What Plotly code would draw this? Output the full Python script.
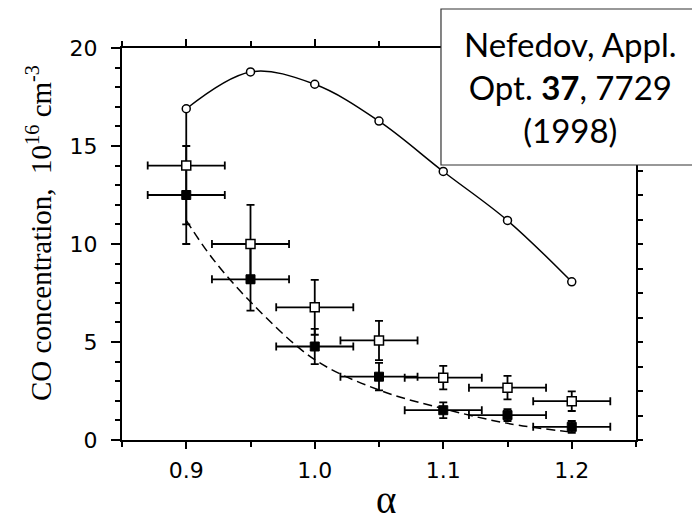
import plotly.graph_objects as go

# Data
alpha_calc = [0.9, 0.95, 1.0, 1.05, 1.1, 1.15, 1.2]
co_calc = [16.9, 18.78, 18.15, 16.27, 13.7, 11.2, 8.07]

alpha_meas = [0.9, 0.95, 1.0, 1.05, 1.1, 1.15, 1.2]
co_open = [14.0, 10.0, 6.77, 5.08, 3.18, 2.67, 1.98]
co_open_err = [3.0, 2.0, 1.4, 1.0, 0.6, 0.6, 0.5]
co_filled = [12.5, 8.2, 4.77, 3.23, 1.52, 1.27, 0.67]
co_filled_err = [2.5, 1.6, 0.9, 0.7, 0.4, 0.3, 0.3]
alpha_err = [0.03, 0.03, 0.03, 0.03, 0.03, 0.03, 0.03]

alpha_model = [0.9, 0.92, 0.95, 1.0, 1.05, 1.1, 1.15, 1.2]
co_model = [11.2, 9.3, 7.05, 4.1, 2.55, 1.6, 0.85, 0.4]

fig = go.Figure()

fig.add_trace(go.Scatter(
    x=alpha_model, y=co_model, mode="lines",
    line=dict(color="black", width=1.5, dash="9px,5px", shape="spline", smoothing=1.0),
    showlegend=False, hoverinfo="skip"))

fig.add_trace(go.Scatter(
    x=alpha_meas, y=co_filled, mode="markers",
    marker=dict(symbol="square", size=9, color="black", line=dict(color="black", width=1)),
    error_x=dict(type="data", array=alpha_err, color="black", thickness=1.8, width=4),
    error_y=dict(type="data", array=co_filled_err, color="black", thickness=1.8, width=4),
    showlegend=False))

fig.add_trace(go.Scatter(
    x=alpha_meas, y=co_open, mode="markers",
    marker=dict(symbol="square", size=9, color="white", line=dict(color="black", width=1.5)),
    error_x=dict(type="data", array=alpha_err, color="black", thickness=1.8, width=4),
    error_y=dict(type="data", array=co_open_err, color="black", thickness=1.8, width=4),
    showlegend=False))

fig.add_trace(go.Scatter(
    x=alpha_calc, y=co_calc, mode="lines+markers",
    line=dict(color="black", width=1.5, shape="spline", smoothing=1.0),
    marker=dict(symbol="circle", size=8, color="white", line=dict(color="black", width=1.5)),
    showlegend=False))

# empty trace to bind right axis
fig.add_trace(go.Scatter(x=[], y=[], yaxis="y2", showlegend=False))

tickfont = dict(family="DejaVu Sans, Arial, sans-serif", size=22, color="black")

fig.update_layout(
    width=692, height=508,
    margin=dict(l=114, r=64, t=40, b=76),
    paper_bgcolor="white", plot_bgcolor="white",
    xaxis=dict(
        range=[0.85, 1.25], tickmode="array", tickvals=[0.9, 1.0, 1.1, 1.2],
        ticktext=["0.9", "1.0", "1.1", "1.2"],
        ticks="outside", ticklen=7, tickwidth=1.5, tickcolor="black",
        minor=dict(dtick=0.05, ticks="outside", ticklen=5, tickwidth=1.5, tickcolor="black"),
        showline=True, linecolor="black", linewidth=2, mirror="ticks",
        showgrid=False, zeroline=False, tickfont=tickfont, ticklabelstandoff=3),
    yaxis=dict(
        range=[0, 20], dtick=5, ticks="outside", ticklen=9, tickwidth=1.5, tickcolor="black",
        minor=dict(dtick=1, ticks="outside", ticklen=5, tickwidth=1.5, tickcolor="black"),
        showline=True, linecolor="black", linewidth=2, mirror=True,
        showgrid=False, zeroline=False, tickfont=tickfont, ticklabelstandoff=9),
    yaxis2=dict(
        overlaying="y", side="right", range=[0, 16], dtick=1,
        ticks="outside", ticklen=6, tickwidth=1.5, tickcolor="black",
        showticklabels=False, showline=False, showgrid=False, zeroline=False),
    shapes=[dict(type="rect", xref="paper", yref="paper",
                 x0=0.6206, x1=1.13, y0=0.7015, y1=1.0995,
                 fillcolor="white", line=dict(color="#333333", width=1.2), layer="above")],
    annotations=[
        dict(text="Nefedov, Appl.<br>Opt. <b>37</b>, 7729<br>(1998)",
             xref="paper", yref="paper", x=0.8726, y=0.9005,
             xanchor="center", yanchor="middle", showarrow=False,
             font=dict(family="Lato, sans-serif", size=33, color="black")),
        dict(text="CO concentration,  10<sup>16</sup> cm<sup>-3</sup>",
             xref="paper", yref="paper", x=-0.1615, y=0.528, textangle=-90,
             xanchor="center", yanchor="middle", showarrow=False,
             font=dict(family="Liberation Serif, Times New Roman, serif", size=29, color="black")),
        dict(text="α", xref="paper", yref="paper", x=0.5136, y=-0.151,
             xanchor="center", yanchor="middle", showarrow=False,
             font=dict(family="Liberation Serif, Times New Roman, serif", size=39, color="black")),
    ],
)

fig.write_html("out.html")
